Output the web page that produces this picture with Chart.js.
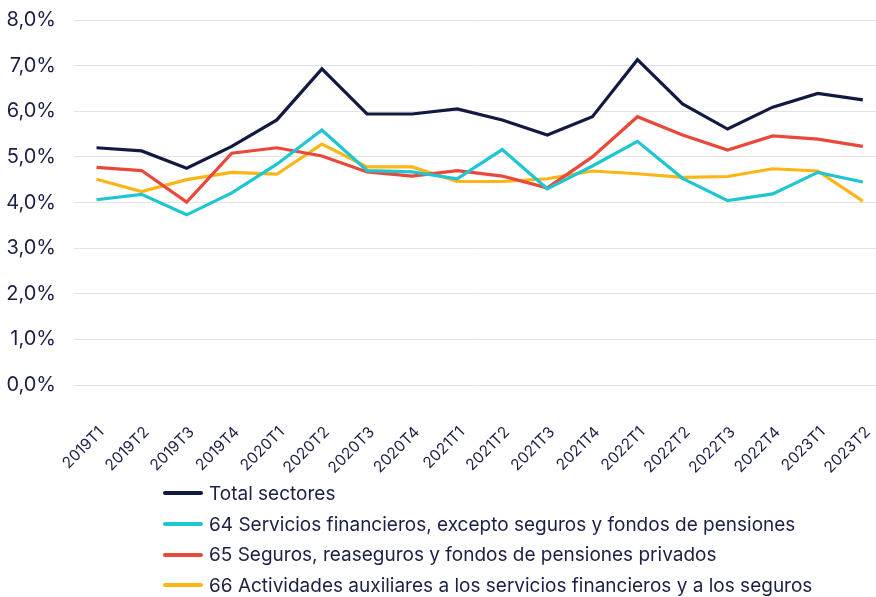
<!DOCTYPE html>
<html lang="es">
<head>
  <meta charset="UTF-8" />
  <title>Sectores financieros</title>
  <style>
    html, body {
      margin: 0; padding: 0;
      background: #ffffff;
      width: 876px; height: 597px;
      overflow: hidden; position: relative;
      font-family: 'Inter', sans-serif;
      color: #1b2044;
    }
    #wrap { position: absolute; left: 0; top: -10px; width: 906px; height: 607px; }
    #legend {
      position: absolute; left: 163px; top: 478px;
      list-style: none; margin: 0; padding: 0;
      font-size: 19px;
    }
    #legend li { display: flex; align-items: center; height: 30.7px; }
    #legend .swatch {
      display: inline-block; width: 40px; height: 4px;
      border-radius: 2px; margin-right: 6px;
    }
  </style>
  <script src="https://cdn.jsdelivr.net/npm/chart.js"></script>
</head>
<body>
  <div id="wrap"><canvas id="chart"></canvas></div>
  <ul id="legend"></ul>

  <script>
    // ─── Data ─────────────────────────────────────────────
    const QUARTERS = ['2019T1','2019T2','2019T3','2019T4','2020T1','2020T2','2020T3','2020T4',
                      '2021T1','2021T2','2021T3','2021T4','2022T1','2022T2','2022T3','2022T4',
                      '2023T1','2023T2'];
    const SERIES_NAMES = [
      'Total sectores',
      '64 Servicios financieros, excepto seguros y fondos de pensiones',
      '65 Seguros, reaseguros y fondos de pensiones privados',
      '66 Actividades auxiliares a los servicios financieros y a los seguros'
    ];
    const TOTAL    = [5.20,5.13,4.75,5.23,5.81,6.93,5.94,5.94,6.05,5.81,5.48,5.88,7.13,6.16,5.61,6.09,6.39,6.25];
    const SEC_64   = [4.06,4.18,3.73,4.21,4.84,5.59,4.70,4.67,4.52,5.16,4.30,4.80,5.34,4.53,4.04,4.19,4.66,4.45];
    const SEC_65   = [4.77,4.70,4.01,5.08,5.20,5.02,4.67,4.58,4.70,4.58,4.32,5.00,5.88,5.48,5.15,5.46,5.39,5.23];
    const SEC_66   = [4.51,4.24,4.50,4.66,4.62,5.28,4.78,4.78,4.46,4.46,4.52,4.69,4.63,4.55,4.57,4.74,4.69,4.03];
    const Y_TICKS  = [0,1,2,3,4,5,6,7,8];

    const COLORS = ['#121a42','#1ec6d1','#e8493b','#fdb515'];
    const TEXT   = '#1b2044';

    const fmt = v => v.toFixed(1).replace('.', ',') + '%';

    const datasets = [TOTAL, SEC_64, SEC_65, SEC_66].map((d, i) => ({
      label: SERIES_NAMES[i],
      data: d,
      borderColor: COLORS[i],
      backgroundColor: COLORS[i],
      borderWidth: 3.2,
      pointRadius: 0,
      tension: 0,
      fill: false
    }));

    const ctx = document.getElementById('chart').getContext('2d');
    const chart = new Chart(ctx, {
      type: 'line',
      data: { labels: QUARTERS, datasets },
      options: {
        responsive: true,
        maintainAspectRatio: false,
        animation: false,
        layout: { padding: { top: 1, left: 0, right: 0, bottom: 122 } },
        scales: {
          x: {
            offset: true,
            afterFit: s => { s.height = 90; },
            grid: { display: false },
            border: { display: false },
            ticks: {
              color: TEXT, autoSkip: false,
              minRotation: 45, maxRotation: 45,
              font: { family: 'Inter', size: 15.5 },
              padding: 30,
              labelOffset: 5
            }
          },
          y: {
            min: 0, max: 8,
            afterBuildTicks: s => { s.ticks = Y_TICKS.map(v => ({ value: v })); },
            afterFit: s => { s.width = 74; },
            grid: { color: '#e3e3e3', lineWidth: 1, drawTicks: false },
            border: { display: false },
            ticks: {
              color: TEXT, padding: 18,
              font: { family: 'Inter', size: 20 },
              callback: v => fmt(v)
            }
          }
        },
        plugins: { legend: { display: false }, tooltip: { enabled: false } }
      }
    });

    // ─── Legend list, one row per series ──────────────────
    const legend = document.getElementById('legend');
    chart.data.datasets.forEach(ds => {
      const li = document.createElement('li');
      const sw = document.createElement('span');
      sw.className = 'swatch';
      sw.style.background = ds.borderColor;
      li.appendChild(sw);
      li.appendChild(document.createTextNode(ds.label));
      legend.appendChild(li);
    });
  </script>
</body>
</html>
